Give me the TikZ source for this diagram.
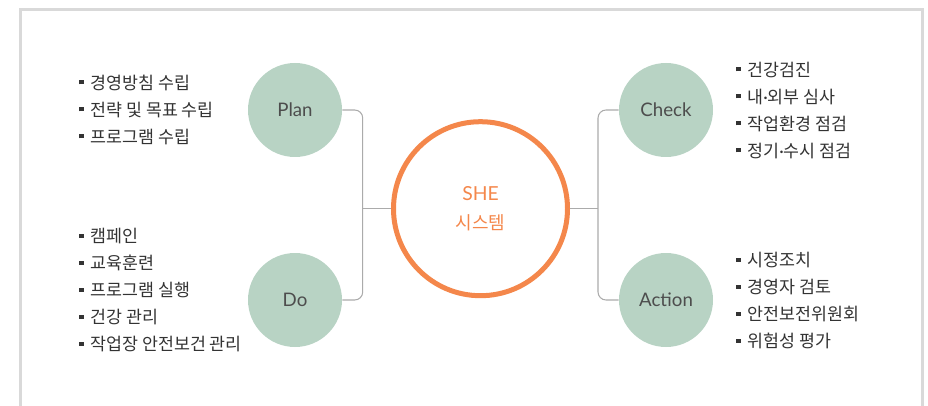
\documentclass[tikz,border=0pt]{standalone}
\usepackage{fontspec}
\setmainfont{Noto Sans CJK KR}
\newfontfamily\latf{Lato}
\definecolor{framegray}{HTML}{D9D9D9}
\definecolor{conngray}{HTML}{ABABAB}
\definecolor{phase}{HTML}{B8D3C4}
\definecolor{shec}{HTML}{F4874B}
\definecolor{txt}{HTML}{333333}
\definecolor{lbl}{HTML}{4D4D4D}
\newcommand{\bul}{\rule[0.3em]{3.2pt}{3.2pt}\hspace{5.2pt}}
\newcommand{\mdot}{{\latf ·}}
\tikzset{
  x=0.75pt, y=-0.75pt,
  phasenode/.style={circle, fill=phase, minimum size=70.5pt, inner sep=0pt,
    text=lbl, font=\latf\fontsize{14}{16}\selectfont},
  shenode/.style={circle, draw=shec, line width=3.75pt, minimum size=130.5pt,
    inner sep=0pt, text=shec, align=center, font=\fontsize{13.5}{21.5}\selectfont},
  listnode/.style={anchor=west, inner sep=0pt, align=left, text=txt,
    font=\fontsize{13}{20.25}\selectfont},
  conn/.style={draw=conngray, line width=0.8pt, rounded corners=6pt},
}
\begin{document}
\begin{tikzpicture}
\useasboundingbox (0,0) rectangle (928,406);
\draw[framegray, line width=2.3pt] (20.5,430) -- (20.5,9.5) -- (922.5,9.5) -- (922.5,430);

\node[shenode] (she) at (480.5,208.7) {{\latf\fontsize{14.5}{16}\selectfont SHE}\\시스템};
\node[phasenode] (plan) at (295,110) {Plan};
\node[phasenode] (do) at (295,300) {Do};
\node[phasenode] (check) at (666,110) {Check};
\node[phasenode] (action) at (666,300) {Action};

\coordinate (lj) at (362.7,208.7);
\coordinate (rj) at (598,208.7);
\draw[conn] (plan.east) -| (lj) |- (do.east);
\draw[conn] (lj) -- (she);
\draw[conn] (check.west) -| (rj) |- (action.west);
\draw[conn] (rj) -- (she);

\node[listnode] (planlist) at (79,110) {\bul 경영방침 수립\\\bul 전략 및 목표 수립\\\bul 프로그램 수립};
\node[listnode] (dolist) at (79,290.5) {\bul 캠페인\\\bul 교육훈련\\\bul 프로그램 실행\\\bul 건강 관리\\\bul 작업장 안전보건 관리};
\node[listnode] (checklist) at (736,110.5) {\bul 건강검진\\\bul 내\mdot 외부 심사\\\bul 작업환경 점검\\\bul 정기\mdot 수시 점검};
\node[listnode] (actionlist) at (736,301) {\bul 시정조치\\\bul 경영자 검토\\\bul 안전보전위원회\\\bul 위험성 평가};
\end{tikzpicture}
\end{document}
